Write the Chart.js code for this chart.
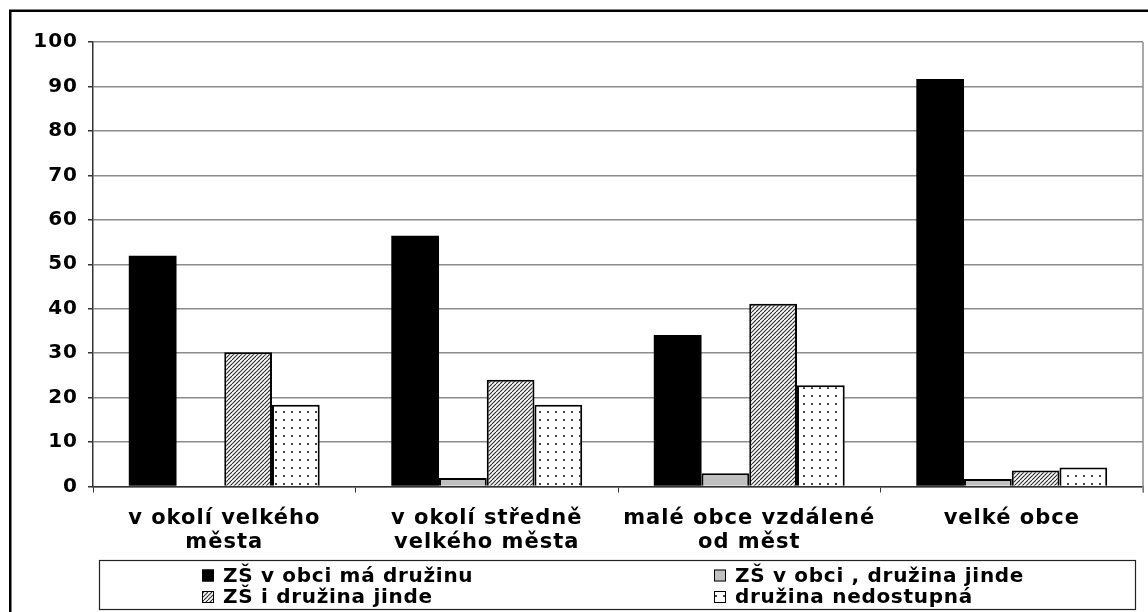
<!DOCTYPE html>
<html>
<head>
<meta charset="utf-8">
<script src="https://cdn.jsdelivr.net/npm/chart.js@4/dist/chart.umd.min.js"></script>
<style>
  html, body { margin: 0; padding: 0; background: #fff; }
  #wrap { width: 1148px; height: 612px; position: relative; }
</style>
</head>
<body>
<div id="wrap"><canvas id="c" width="1148" height="612"></canvas></div>
<script>
// ---- data ----
const categories = [
  ['v okolí velkého', 'města'],
  ['v okolí středně', 'velkého města'],
  ['malé obce vzdálené', 'od měst'],
  'velké obce'
];
const seriesNames = ['ZŠ v obci má družinu', 'ZŠ v obci , družina jinde', 'ZŠ i družina jinde', 'družina nedostupná'];
const maDruzinu      = [51.9, 56.4, 34.1, 91.7];
const druzinaJinde   = [0,    1.9,  3.0,  1.7];
const zsIDruzina     = [30.2, 24.0, 41.1, 3.6];
const nedostupna     = [18.4, 18.4, 22.8, 4.3];
const yMin = 0, yMax = 100, yStep = 10;

// ---- patterns ----
function hatchPattern() {
  const t = document.createElement('canvas');
  t.width = 8; t.height = 8;
  const g = t.getContext('2d');
  g.fillStyle = '#fff'; g.fillRect(0, 0, 8, 8);
  g.strokeStyle = '#2a2a2a'; g.lineWidth = 1.1;
  for (let i = -8; i <= 16; i += 4) {
    g.beginPath(); g.moveTo(i, 8); g.lineTo(i + 8, 0); g.stroke();
  }
  return g.createPattern(t, 'repeat');
}
function dotPattern() {
  const t = document.createElement('canvas');
  t.width = 8; t.height = 8;
  const g = t.getContext('2d');
  g.fillStyle = '#fff'; g.fillRect(0, 0, 8, 8);
  g.fillStyle = '#444'; g.fillRect(3, 3, 2, 2);
  return g.createPattern(t, 'repeat');
}
const ctx = document.getElementById('c').getContext('2d');
const fills = ['#000000', '#c0c0c0', hatchPattern(), dotPattern()];
const values = [maDruzinu, druzinaJinde, zsIDruzina, nedostupna];

const TICKFONT = { family: 'DejaVu Sans', weight: 'bold', size: 20 };
const CATFONT = { family: 'DejaVu Sans', weight: 'bold', size: 21, lineHeight: 1.15 };

const framePlugin = {
  id: 'frame',
  beforeInit(chart) {
    chart.ctx.letterSpacing = '1px';
  },
  beforeDraw(chart) {
    const c = chart.ctx;
    c.letterSpacing = '1px';
    c.save();
    c.fillStyle = '#fff';
    c.fillRect(0, 0, chart.width, chart.height);
    c.restore();
  },
  afterDatasetsDraw(chart) {
    const c = chart.ctx, a = chart.chartArea;
    c.save();
    c.strokeStyle = '#8c8c8c'; c.lineWidth = 1.5;
    c.beginPath(); c.moveTo(a.right, a.top); c.lineTo(a.right, a.bottom + 6); c.stroke();
    c.restore();
  },
  afterDraw(chart) {
    const c = chart.ctx;
    c.save();
    // outer frame
    c.strokeStyle = '#000'; c.lineWidth = 2.5;
    c.strokeRect(10.25, 10.75, 1300, 800);
    // legend box
    c.strokeStyle = '#222'; c.lineWidth = 1.2;
    c.strokeRect(99.5, 560.5, 1036, 49);
    const cols = [202, 714];
    const rows = [575.5, 597];
    c.font = 'bold 20px "DejaVu Sans"';
    c.letterSpacing = '0.7px';
    c.textBaseline = 'middle';
    c.textAlign = 'left';
    chart.data.datasets.forEach((ds, i) => {
      const x = cols[i % 2], y = rows[Math.floor(i / 2)];
      c.fillStyle = ds.backgroundColor;
      c.fillRect(x, y - 6, 12, 12);
      c.strokeStyle = '#000'; c.lineWidth = 1;
      c.strokeRect(x + 0.5, y - 5.5, 11, 11);
      c.fillStyle = '#000';
      c.fillText(ds.label, x + 21, y + 1);
    });
    c.restore();
  }
};

new Chart(ctx, {
  type: 'bar',
  data: {
    labels: categories,
    datasets: seriesNames.map((name, i) => ({
      label: name,
      data: values[i],
      backgroundColor: fills[i],
      borderColor: '#000',
      borderWidth: i === 0 ? 0 : 2,
      categoryPercentage: 4 / 5.5,
      barPercentage: 1.0
    }))
  },
  options: {
    responsive: false,
    animation: false,
    devicePixelRatio: 1,
    layout: { padding: { left: 0, top: 42, right: 5, bottom: 0 } },
    plugins: { legend: { display: false }, tooltip: { enabled: false } },
    scales: {
      x: {
        offset: true,
        grid: { display: true, drawOnChartArea: false, drawTicks: true, tickLength: 6, color: '#333', tickColor: '#333', offset: true },
        border: { display: true, color: '#333', width: 1.5 },
        ticks: { color: '#000', font: CATFONT, padding: 14, maxRotation: 0, autoSkip: false },
        afterFit(scale) { scale.height = 125.5; }
      },
      y: {
        min: yMin, max: yMax,
        ticks: { stepSize: yStep, color: '#000', font: TICKFONT, padding: 10 },
        grid: { color: '#8c8c8c', lineWidth: 1.5, tickLength: 5, tickColor: '#333' },
        border: { display: true, color: '#333', width: 1.5 },
        afterFit(scale) { scale.width = 93; }
      }
    }
  },
  plugins: [framePlugin]
});
</script>
</body>
</html>
